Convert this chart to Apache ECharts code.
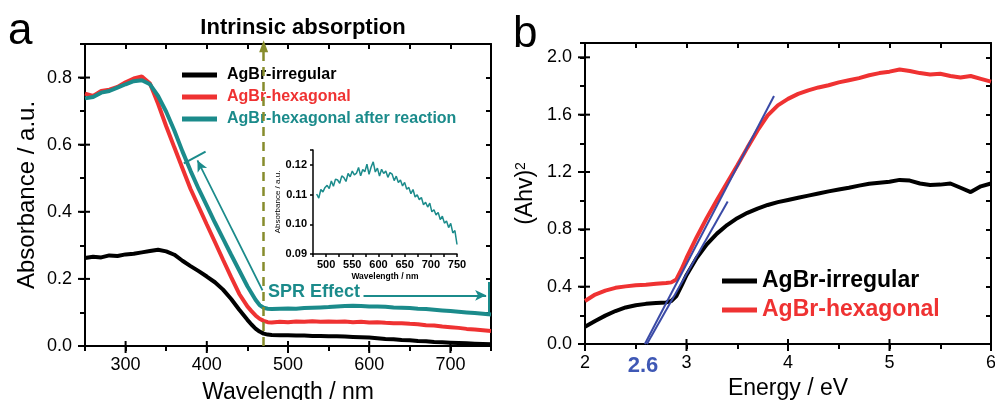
<!DOCTYPE html>
<html><head><meta charset="utf-8">
<script src="https://cdn.jsdelivr.net/npm/echarts@6/dist/echarts.min.js"></script>
<style>html,body{margin:0;padding:0;background:#fff}#c{width:995px;height:400px}</style>
</head><body><div id="c"></div>
<script>
const FONT = '"Liberation Sans", Arial, Helvetica, sans-serif';
const BLACK = '#000000', RED = '#ef3232', TEAL = '#1b8b8b', OLIVE = '#878c2c', BLUE = '#3a4aa6', BLUE_TXT = '#3f58b5';

// ---- Panel a: UV-vis absorbance ----
const wavelength = [250,260,270,280,290,300,310,320,330,340,350,360,370,380,390,400,410,420,430,440,450,455,460,465,470,475,480,490,500,510,520,530,540,550,560,570,580,590,600,610,620,630,640,650,660,670,680,690,700,710,720,730,740,750];
const absIrregular = [0.262,0.266,0.264,0.270,0.268,0.273,0.275,0.279,0.283,0.287,0.282,0.272,0.254,0.238,0.223,0.207,0.190,0.168,0.140,0.108,0.078,0.064,0.052,0.043,0.037,0.034,0.033,0.032,0.032,0.031,0.031,0.030,0.030,0.029,0.029,0.028,0.027,0.026,0.025,0.023,0.021,0.020,0.018,0.017,0.015,0.014,0.012,0.011,0.010,0.009,0.008,0.007,0.006,0.005];
const absHexagonal = [0.752,0.745,0.760,0.764,0.772,0.786,0.797,0.803,0.782,0.722,0.655,0.592,0.530,0.468,0.415,0.362,0.310,0.257,0.205,0.155,0.118,0.104,0.091,0.081,0.075,0.071,0.070,0.072,0.071,0.073,0.072,0.074,0.072,0.073,0.072,0.073,0.071,0.072,0.070,0.071,0.069,0.068,0.068,0.066,0.065,0.062,0.061,0.058,0.056,0.054,0.051,0.049,0.047,0.045];
const absAfterReaction = [0.738,0.742,0.755,0.760,0.770,0.780,0.789,0.792,0.780,0.745,0.698,0.642,0.580,0.522,0.468,0.418,0.368,0.320,0.272,0.225,0.178,0.158,0.138,0.122,0.114,0.111,0.110,0.111,0.112,0.111,0.113,0.114,0.115,0.116,0.118,0.119,0.120,0.119,0.118,0.118,0.117,0.115,0.114,0.113,0.111,0.110,0.108,0.106,0.104,0.102,0.100,0.098,0.096,0.094];

// ---- Inset ----
const insetWavelength = [482,486,490,494,498,502,506,510,514,518,522,526,530,534,538,542,546,550,554,558,562,566,570,574,578,582,586,590,594,598,602,606,610,614,618,622,626,630,634,638,642,646,650,654,658,662,666,670,674,678,682,686,690,694,698,702,706,710,714,718,722,726,730,734,738,742,746,750];
const insetAbs = [0.1102,0.1088,0.1117,0.1109,0.1124,0.1131,0.1120,0.1146,0.1128,0.1152,0.1149,0.1138,0.1163,0.1157,0.1144,0.1171,0.1160,0.1179,0.1166,0.1172,0.1191,0.1163,0.1184,0.1177,0.1202,0.1168,0.1193,0.1210,0.1176,0.1189,0.1162,0.1185,0.1171,0.1179,0.1158,0.1174,0.1169,0.1147,0.1162,0.1141,0.1149,0.1129,0.1141,0.1118,0.1124,0.1103,0.1117,0.1092,0.1099,0.1083,0.1090,0.1066,0.1074,0.1058,0.1071,0.1042,0.1049,0.1031,0.1040,0.1016,0.1027,0.1004,0.1011,0.0989,0.1003,0.0971,0.0979,0.0932];

// ---- Panel b: Tauc plot ----
const energy = [2.0,2.1,2.2,2.3,2.4,2.5,2.6,2.7,2.8,2.85,2.9,2.95,3.0,3.1,3.2,3.3,3.4,3.5,3.6,3.7,3.8,3.9,4.0,4.1,4.2,4.3,4.4,4.5,4.6,4.7,4.8,4.9,5.0,5.1,5.2,5.3,5.4,5.5,5.6,5.7,5.8,5.9,6.0];
const ahvIrregular = [0.12,0.16,0.198,0.230,0.255,0.270,0.280,0.286,0.290,0.300,0.335,0.405,0.480,0.600,0.695,0.770,0.830,0.878,0.915,0.945,0.970,0.990,1.005,1.020,1.035,1.050,1.065,1.078,1.090,1.105,1.118,1.125,1.132,1.145,1.140,1.120,1.110,1.112,1.120,1.090,1.060,1.100,1.120];
const ahvHexagonal = [0.30,0.345,0.372,0.392,0.402,0.410,0.414,0.420,0.425,0.430,0.450,0.520,0.600,0.745,0.880,1.005,1.125,1.245,1.370,1.490,1.595,1.665,1.710,1.745,1.770,1.790,1.805,1.825,1.840,1.855,1.875,1.890,1.900,1.915,1.905,1.890,1.880,1.885,1.870,1.860,1.870,1.850,1.830];
// tangent fits (start / end points in data units)
const tangentHex = [[2.59, 0], [3.862, 1.73]];
const tangentIrr = [[2.61, 0], [3.406, 0.994]];

// ---- ticks / tick labels ----
const aXMajor = [300,400,500,600,700];
const aXMinor = [250,350,450,550,650,750];
const aYMajor = [0,0.2,0.4,0.6,0.8];
const aYMinor = [0.1,0.3,0.5,0.7];
const bXMajor = [2,3,4,5,6];
const bXMinor = [2.5,3.5,4.5,5.5];
const bYMajor = [0,0.4,0.8,1.2,1.6,2.0];
const bYMinor = [0.2,0.6,1.0,1.4,1.8];
const insetXMajor = [500,550,600,650,700,750];
const insetYMajor = [0.09,0.10,0.11,0.12];

const zip = (xs, ys) => xs.map((x, i) => [x, ys[i]]);

function ax(gridIndex, position, min, max, interval, inside, labels, label, extra, lw) {
  return Object.assign({
    type: 'value', gridIndex, position, min, max, interval,
    axisLine: { show: true, onZero: false, lineStyle: { color: '#000', width: lw || 2 } },
    axisTick: { show: true, inside, length: lw ? 3 : 5, lineStyle: { color: '#000', width: lw ? 1.5 : 2 } },
    splitLine: { show: false }, minorTick: { show: false },
    axisLabel: label ? Object.assign({ show: true, customValues: labels, color: '#000', fontFamily: FONT }, label) : { show: false }
  }, extra || {});
}
const nameStyle = (size, extra) => Object.assign({ fontSize: size, fontFamily: FONT, color: '#000' }, extra || {});

// major tick marks drawn through the axes' own scales (api.coord); kind: 0 = x major, 1 = y major
function tickSeries(name, xi, yi, xr, yr, xMaj, yMaj) {
  const data = xMaj.map(v => [v, 0]).concat(yMaj.map(v => [v, 1]));
  return {
    type: 'custom', name, xAxisIndex: xi, yAxisIndex: yi, silent: true, z: 10, data,
    renderItem: (params, api) => {
      const v = api.value(0), kind = api.value(1);
      if (kind === 0) {
        const b = api.coord([v, yr[0]]);
        return { type: 'line', shape: { x1: b[0], y1: b[1] - 5, x2: b[0], y2: b[1] + 7 }, style: { stroke: '#000', lineWidth: 2 } };
      }
      const l = api.coord([xr[0], v]);
      return { type: 'line', shape: { x1: l[0] - 7, y1: l[1], x2: l[0] + 5, y2: l[1] }, style: { stroke: '#000', lineWidth: 2 } };
    }
  };
}

const option = {
  animation: false,
  backgroundColor: '#fff',
  grid: [
    { left: 85, top: 44, width: 406, height: 302, outerBoundsMode: 'none', containLabel: false },
    { left: 585, top: 43, width: 406, height: 301, outerBoundsMode: 'none', containLabel: false },
    { left: 313, top: 150, width: 144, height: 104, outerBoundsMode: 'none', containLabel: false }
  ],
  xAxis: [
    ax(0, 'bottom', 250, 750, 50, false, aXMajor, { fontSize: 18, margin: 10 },
      { name: 'Wavelength / nm', nameLocation: 'middle', nameGap: 35, nameTextStyle: nameStyle(23) }),
    ax(0, 'top', 250, 750, 50, true, null, null),
    ax(1, 'bottom', 2, 6, 0.5, false, bXMajor, { fontSize: 18, margin: 10 },
      { name: 'Energy / eV', nameLocation: 'middle', nameGap: 26, nameTextStyle: nameStyle(23) }),
    ax(1, 'top', 2, 6, 0.5, true, null, null),
    ax(2, 'bottom', 475, 750, 25, false, insetXMajor, { fontSize: 11, fontWeight: 'bold', margin: 5 },
      { name: 'Wavelength / nm', nameLocation: 'middle', nameGap: 18, nameTextStyle: nameStyle(8.5, { fontWeight: 'bold' }) }, 1.5)
  ],
  yAxis: [
    ax(0, 'left', 0, 0.9, 0.1, false, aYMajor, { fontSize: 18, margin: 13, formatter: v => v.toFixed(1) },
      { name: 'Absorbance / a.u.', nameLocation: 'middle', nameGap: 46, nameTextStyle: nameStyle(24) }),
    ax(0, 'right', 0, 0.9, 0.1, true, null, null),
    ax(1, 'left', 0, 2.1, 0.2, false, bYMajor, { fontSize: 18, margin: 13, formatter: v => v.toFixed(1) },
      { name: '(Ahv){s|2}', nameLocation: 'middle', nameGap: 48,
        nameTextStyle: nameStyle(23, { rich: { s: { fontSize: 14, fontFamily: FONT, color: '#000', verticalAlign: 'top' } } }) }),
    ax(1, 'right', 0, 2.1, 0.2, true, null, null),
    ax(2, 'left', 0.09, 0.125, 0.01, false, insetYMajor, { fontSize: 11, fontWeight: 'bold', margin: 6, formatter: v => v.toFixed(2) },
      { name: 'Absorbance / a.u.', nameLocation: 'middle', nameGap: 31, nameTextStyle: nameStyle(8) }, 1.5)
  ],
  legend: [
    { orient: 'vertical', left: 177, top: 60, icon: 'rect', itemWidth: 35, itemHeight: 5, itemGap: 2,
      selectedMode: false,
      textStyle: { fontSize: 16, fontWeight: 'bold', fontFamily: FONT, lineHeight: 20, padding: [0, 0, 0, 5] },
      data: [
        { name: 'AgBr-irregular', textStyle: { color: BLACK } },
        { name: 'AgBr-hexagonal', textStyle: { color: RED } },
        { name: 'AgBr-hexagonal after reaction', textStyle: { color: TEAL } }
      ] },
    { orient: 'vertical', left: 717, top: 263, icon: 'rect', itemWidth: 35, itemHeight: 5, itemGap: 3,
      selectedMode: false,
      textStyle: { fontSize: 23, fontWeight: 'bold', fontFamily: FONT, lineHeight: 26 },
      data: [
        { name: 'AgBr-irregular', textStyle: { color: BLACK } },
        { name: 'AgBr-hexagonal', textStyle: { color: RED } }
      ] }
  ],
  series: [
    { type: 'line', name: 'AgBr-irregular', xAxisIndex: 0, yAxisIndex: 0, data: zip(wavelength, absIrregular),
      showSymbol: false, color: BLACK, lineStyle: { color: BLACK, width: 4 } },
    { type: 'line', name: 'AgBr-hexagonal', xAxisIndex: 0, yAxisIndex: 0, data: zip(wavelength, absHexagonal),
      showSymbol: false, color: RED, lineStyle: { color: RED, width: 4 } },
    { type: 'line', name: 'AgBr-hexagonal after reaction', xAxisIndex: 0, yAxisIndex: 0, data: zip(wavelength, absAfterReaction),
      showSymbol: false, color: TEAL, lineStyle: { color: TEAL, width: 4 },
      markLine: {
        silent: true, animation: false, label: { show: false }, symbol: ['none', 'none'],
        data: [
          [{ coord: [470, 0], symbol: 'none', lineStyle: { color: OLIVE, width: 2.5, type: [9, 6] } },
           { coord: [470, 0.893], symbol: 'triangle', symbolSize: [9, 12] }],
          [{ coord: [468.6, 0.166], symbol: 'none', lineStyle: { color: TEAL, width: 1.8, type: 'solid' } },
           { coord: [388.5, 0.553], symbol: 'arrow', symbolSize: [8, 11] }],
          [{ coord: [371.7, 0.544], symbol: 'none', lineStyle: { color: TEAL, width: 2, type: 'solid' } },
           { coord: [398.5, 0.579], symbol: 'none' }],
          [{ coord: [593, 0.151], symbol: 'none', lineStyle: { color: TEAL, width: 1.8, type: 'solid' } },
           { coord: [744, 0.151], symbol: 'arrow', symbolSize: [8, 11] }],
          [{ coord: [747, 0.191], symbol: 'none', lineStyle: { color: TEAL, width: 2, type: 'solid' } },
           { coord: [747, 0.092], symbol: 'none' }]
        ]
      } },
    { type: 'line', name: 'inset', xAxisIndex: 4, yAxisIndex: 4, data: zip(insetWavelength, insetAbs),
      showSymbol: false, color: TEAL, lineStyle: { color: TEAL, width: 1.5 } },
    { type: 'line', name: 'AgBr-irregular', xAxisIndex: 2, yAxisIndex: 2, data: zip(energy, ahvIrregular),
      showSymbol: false, color: BLACK, lineStyle: { color: BLACK, width: 4 } },
    { type: 'line', name: 'AgBr-hexagonal', xAxisIndex: 2, yAxisIndex: 2, data: zip(energy, ahvHexagonal),
      showSymbol: false, color: RED, lineStyle: { color: RED, width: 4 },
      markLine: {
        silent: true, animation: false, label: { show: false }, symbol: ['none', 'none'],
        lineStyle: { color: BLUE, width: 2, type: 'solid' },
        data: [
          [{ coord: tangentHex[0] }, { coord: tangentHex[1] }],
          [{ coord: tangentIrr[0] }, { coord: tangentIrr[1] }]
        ]
      } },
    tickSeries('ticks a', 0, 0, [250, 750], [0, 0.9], aXMajor, aYMajor),
    tickSeries('ticks b', 2, 2, [2, 6], [0, 2.1], bXMajor, bYMajor)
  ],
  graphic: [
    { type: 'text', z: 100, x: 8, y: 32, style: { text: 'a', font: '44px ' + FONT, fill: '#000', textVerticalAlign: 'middle' } },
    { type: 'text', z: 100, x: 513, y: 35, style: { text: 'b', font: '44px ' + FONT, fill: '#000', textVerticalAlign: 'middle' } },
    { type: 'text', z: 100, x: 303, y: 28, style: { text: 'Intrinsic absorption', font: 'bold 22px ' + FONT, fill: '#000', textAlign: 'center', textVerticalAlign: 'middle' } },
    { type: 'text', z: 100, x: 268, y: 292, style: { text: 'SPR Effect', font: 'bold 18px ' + FONT, fill: TEAL, textVerticalAlign: 'middle' } },
    { type: 'text', z: 100, x: 643, y: 366, style: { text: '2.6', font: 'bold 22px ' + FONT, fill: BLUE_TXT, textAlign: 'center', textVerticalAlign: 'middle' } }
  ]
};

const chart = echarts.init(document.getElementById('c'), null, { renderer: 'canvas' });
chart.setOption(option);
</script>
</body></html>
